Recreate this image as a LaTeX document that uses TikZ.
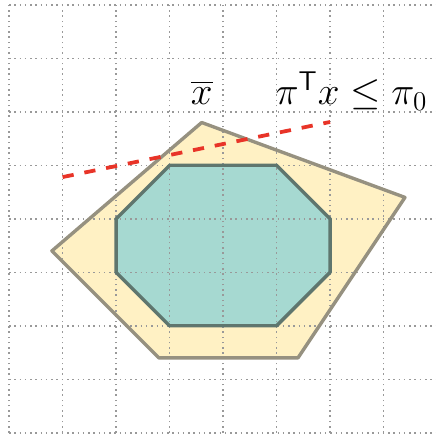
\documentclass[tikz,border=0pt]{standalone}
\usepackage{amsmath}
\usetikzlibrary{calc}
\definecolor{hullfill}{RGB}{255,241,196}
\definecolor{hulledge}{RGB}{150,145,128}
\definecolor{intfill}{RGB}{166,217,209}
\definecolor{intedge}{RGB}{95,118,110}
\definecolor{cutred}{RGB}{232,52,40}

\begin{document}
\begin{tikzpicture}[line join=round]
  \useasboundingbox (-0.17,-0.02) rectangle (7.98,8.09);
  \coordinate (xbar) at (3.6,5.8);
  \coordinate (pR) at (7.4,4.4);
  \coordinate (pBR) at (5.4,1.4);
  \coordinate (pBL) at (2.8,1.4);
  \coordinate (pL) at (0.8,3.4);
  \fill[hullfill] (xbar)--(pR)--(pBR)--(pBL)--(pL)--cycle;
  \fill[intfill] (3,5)--(5,5)--(6,4)--(6,3)--(5,2)--(3,2)--(2,3)--(2,4)--cycle;
  \draw[dotted,thick,gray!80] (0,0) grid (8,8);
  \draw[line width=1.8pt,hulledge] (xbar)--(pR)--(pBR)--(pBL)--(pL)--cycle;
  \draw[line width=1.8pt,intedge] (3,5)--(5,5)--(6,4)--(6,3)--(5,2)--(3,2)--(2,3)--(2,4)--cycle;
  \coordinate (cutA) at (1,4.78);
  \coordinate (cutB) at (6,5.81);
  \draw[cutred,line width=2pt,dash pattern=on 6pt off 5.8pt] (cutA)--(cutB);
  \node[anchor=base] at (3.6,6.13) {\huge$\overline{x}$};
  \node[anchor=base] at (6.4,6.13) {\huge$\pi^{\mathsf{T}}x\leq\pi_0$};
\end{tikzpicture}
\end{document}
